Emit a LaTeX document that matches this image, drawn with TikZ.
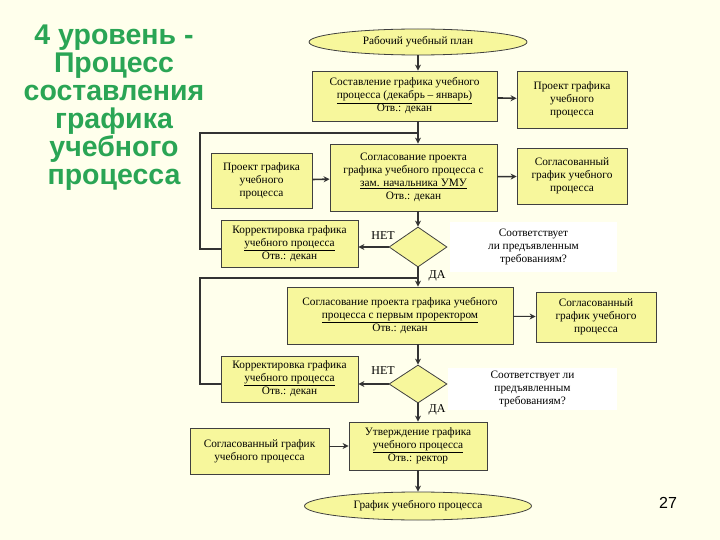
\documentclass[tikz,border=0pt]{standalone}
\usepackage{fontspec}
\setmainfont{Liberation Serif}
\newfontfamily\titlefont{Liberation Sans}
\usetikzlibrary{shapes.geometric,arrows.meta}
\definecolor{bg}{HTML}{FFFFEC}
\definecolor{boxfill}{HTML}{F7F79C}
\definecolor{ttl}{HTML}{2AA555}
\tikzset{
 box/.style={draw=black!75,fill=boxfill,line width=0.8pt,align=center,font=\fontsize{11.3}{13}\selectfont,inner sep=2pt},
 oval/.style={ellipse,draw=black!75,fill=boxfill,line width=0.8pt,font=\fontsize{11.3}{13}\selectfont,inner sep=0pt},
 dec/.style={diamond,draw=black!75,fill=boxfill,line width=0.8pt,inner sep=0pt},
 note/.style={fill=white,align=center,font=\fontsize{11.3}{13}\selectfont},
 arr/.style={line width=1.6pt,-{Stealth[length=6pt,width=6pt]},black!80},
 ln/.style={line width=1.2pt,black!80},
 lbl/.style={font=\fontsize{12}{12}\selectfont}
}
\begin{document}
\begin{tikzpicture}[x=1pt,y=-1pt]
\fill[bg] (0,0) rectangle (720,540);
\useasboundingbox (0,0) rectangle (720,540);
\node[align=center,text=ttl,font=\titlefont\bfseries\fontsize{28.5}{28}\selectfont] (title) at (114,108)
 {4 уровень -\\Процесс\\составления\\графика\\учебного\\процесса};
\node[oval,minimum width=218,minimum height=26] (start) at (418,42) {Рабочий учебный план};
\node[box,minimum width=185,minimum height=50] (b1) at (404.5,96) {Составление графика учебного\\\underline{процесса (декабрь – январь)}\\Отв.: декан};
\node[box,minimum width=110,minimum height=57] (r1) at (572,99.5) {Проект графика\\учебного\\процесса};
\node[box,minimum width=167,minimum height=67] (b2) at (413.5,177.5) {Согласование проекта\\графика учебного процесса с\\\underline{зам. начальника УМУ}\\Отв.: декан};
\node[box,minimum width=101,minimum height=55] (l2) at (261.5,180.5) {Проект графика\\учебного\\процесса};
\node[box,minimum width=110,minimum height=56] (r2) at (572,176) {Согласованный\\график учебного\\процесса};
\node[dec,minimum width=58,minimum height=40] (d1) at (418,247) {};
\node[note,minimum width=167,minimum height=50] (n1) at (533.5,247) {Соответствует\\ли предъявленным\\требованиям?};
\node[box,minimum width=137,minimum height=47] (c1) at (289.5,243.5) {Корректировка графика\\\underline{учебного процесса}\\Отв.: декан};
\node[box,minimum width=226,minimum height=57] (b3) at (400,315.5) {Согласование проекта графика учебного\\\underline{процесса с первым проректором}\\Отв.: декан};
\node[box,minimum width=120,minimum height=50] (r3) at (596,317) {Согласованный\\график учебного\\процесса};
\node[dec,minimum width=58,minimum height=38] (d2) at (418,384) {};
\node[note,minimum width=169,minimum height=42] (n2) at (532.5,389) {Соответствует ли\\предъявленным\\требованиям?};
\node[box,minimum width=137,minimum height=46] (c2) at (289.5,379) {Корректировка графика\\\underline{учебного процесса}\\Отв.: декан};
\node[box,minimum width=138,minimum height=48] (b4) at (418,446) {Утверждение графика\\\underline{учебного процесса}\\Отв.: ректор};
\node[box,minimum width=139,minimum height=46] (l4) at (259.5,451) {Согласованный график\\учебного процесса};
\node[oval,minimum width=227,minimum height=28] (end) at (418,506) {График учебного процесса};
\node[lbl] (net1) at (383,236) {НЕТ};
\node[lbl] (da1) at (437,276) {ДА};
\node[lbl] (net2) at (383,371) {НЕТ};
\node[lbl] (da2) at (437,410) {ДА};
\node[font=\titlefont\fontsize{16}{16}\selectfont] (pg) at (668,503) {27};
\coordinate (j1) at (418,133);
\coordinate (k1) at (200,133);
\coordinate (k2) at (200,249);
\coordinate (j3) at (418,278);
\coordinate (m1) at (200,278);
\coordinate (m2) at (200,384);
\draw[arr] (start.south) -- (b1.north -| start.south);
\draw[arr] (b1) -- (r1);
\draw[arr] (b1.south -| j1) -- (b2.north -| j1);
\draw[arr] (l2) -- (b2);
\draw[arr] (b2) -- (r2);
\draw[arr] (b2.south -| d1) -- (d1.north);
\draw[arr] (d1.west) -- (c1.east |- d1);
\draw[ln] (c1.west |- k2) -- (k2) -- (k1) -- (j1);
\draw[arr] (d1.south) -- (b3.north -| d1);
\draw[ln] (c2.west |- m2) -- (m2) -- (m1) -- (j3);
\draw[arr,line width=1pt] (b3) -- (r3);
\draw[arr] (b3.south -| d2) -- (d2.north);
\draw[arr] (d2.west) -- (c2.east |- d2);
\draw[arr] (d2.south) -- (b4.north);
\draw[arr,line width=1pt] (l4.east |- b4) -- (b4.west);
\draw[arr] (b4) -- (end);
\end{tikzpicture}
\end{document}
